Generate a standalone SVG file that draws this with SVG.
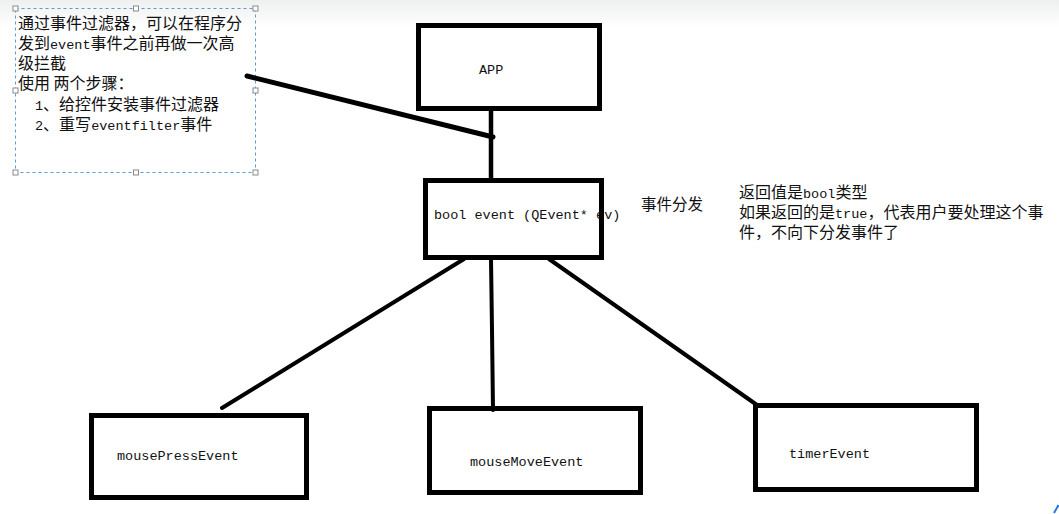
<svg xmlns="http://www.w3.org/2000/svg" width="1059" height="514" viewBox="0 0 1059 514">
<defs>
<linearGradient id="topband" x1="0" y1="0" x2="0" y2="1">
<stop offset="0" stop-color="#eef0ef"/>
<stop offset="1" stop-color="#ffffff"/>
</linearGradient>
<style>
.box{fill:none;stroke:#000;stroke-width:5}
.mono{font-family:"Liberation Mono","DejaVu Sans Mono",monospace;font-size:13.5px;fill:#111}
.cjk{font-family:"Noto Sans CJK SC","Noto Sans",sans-serif;font-size:16px;fill:#111}
.asc{font-family:"Liberation Mono","DejaVu Sans Mono",monospace;font-size:13.5px}
.wire{stroke:#000;fill:none;stroke-linecap:round}
.handle{fill:#fff;stroke:#8a8a8a;stroke-width:1}
</style>
</defs>
<rect x="0" y="0" width="1059" height="514" fill="#fff"/>
<rect x="0" y="0" width="1059" height="28" fill="url(#topband)"/>

<g id="note">
<rect x="15.5" y="8.5" width="240" height="164" fill="none" stroke="#5b9bd5" stroke-width="1" stroke-dasharray="3,3"/>
<rect class="handle" x="13" y="6" width="5" height="5"/>
<rect class="handle" x="133.5" y="6" width="5" height="5"/>
<rect class="handle" x="253" y="6" width="5" height="5"/>
<rect class="handle" x="13" y="88" width="5" height="5"/>
<rect class="handle" x="253" y="88" width="5" height="5"/>
<rect class="handle" x="13" y="170" width="5" height="5"/>
<rect class="handle" x="133.5" y="170" width="5" height="5"/>
<rect class="handle" x="253" y="170" width="5" height="5"/>
<text class="cjk" x="18" y="29">通过事件过滤器，可以在程序分</text>
<text class="cjk" x="18" y="49">发到<tspan class="asc">event</tspan>事件之前再做一次高</text>
<text class="cjk" x="18" y="69">级拦截</text>
<text class="cjk" x="18" y="89">使用 两个步骤：</text>
<text class="cjk" x="35" y="110"><tspan class="asc">1</tspan>、给控件安装事件过滤器</text>
<text class="cjk" x="35" y="130"><tspan class="asc">2</tspan>、重写<tspan class="asc">eventfilter</tspan>事件</text>
</g>

<g id="connectors">
<line class="wire" x1="247" y1="76" x2="493" y2="137" stroke-width="5"/>
<line class="wire" x1="491" y1="109" x2="491" y2="180" stroke-width="4.5"/>
<line class="wire" x1="464" y1="259" x2="222" y2="408" stroke-width="4"/>
<polyline class="wire" points="491,259 492,330 493,410" stroke-width="4"/>
<line class="wire" x1="549" y1="259" x2="757" y2="405" stroke-width="4"/>
</g>

<g id="app">
<rect class="box" x="418.5" y="25.5" width="181" height="83" stroke-width="4.5"/>
<text class="mono" x="479" y="74">APP</text>
</g>

<g id="event">
<text class="mono" x="434" y="219">bool event (QEvent* ev)</text>
<rect class="box" x="425.5" y="180.5" width="176" height="77" stroke-width="4.5"/>
</g>

<g id="event-label">
<text class="cjk" x="641" y="210" style="font-size:15.5px">事件分发</text>
</g>

<g id="return-note">
<text class="cjk" x="739" y="198">返回值是<tspan class="asc">bool</tspan>类型</text>
<text class="cjk" x="739" y="218">如果返回的是<tspan class="asc">true</tspan>，代表用户要处理这个事</text>
<text class="cjk" x="739" y="238">件，不向下分发事件了</text>
</g>

<g id="mousePress">
<rect class="box" x="91.5" y="415.5" width="215" height="82"/>
<text class="mono" x="117" y="460">mousePressEvent</text>
</g>

<g id="mouseMove">
<rect class="box" x="429.5" y="408.5" width="211" height="84"/>
<text class="mono" x="470" y="466">mouseMoveEvent</text>
</g>

<g id="timer">
<rect class="box" x="755.5" y="405.5" width="221" height="84"/>
<text class="mono" x="789" y="458">timerEvent</text>
</g>

<path d="M1054,513 L1058.5,505" stroke="#2a78e4" stroke-width="2" fill="none"/>
</svg>
